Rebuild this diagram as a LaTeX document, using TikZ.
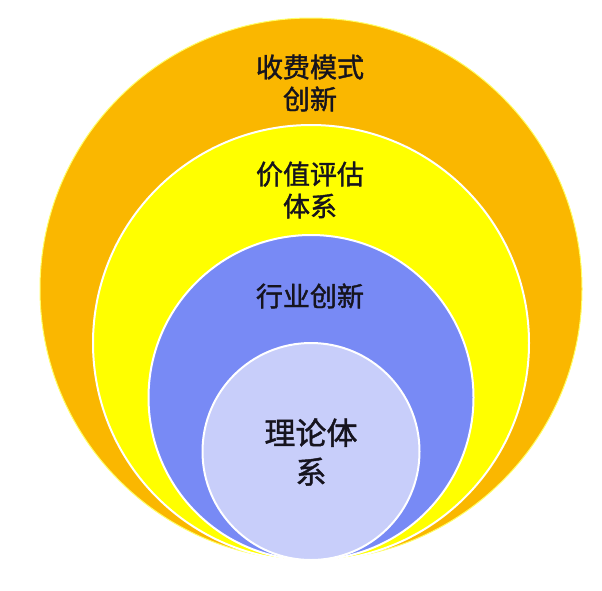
\documentclass[tikz,border=0pt]{standalone}
\usepackage{fontspec}
\newfontfamily\cjk[FakeBold=1.4]{Noto Sans CJK SC}
\definecolor{ringorange}{RGB}{250,183,0}
\definecolor{ringyellow}{RGB}{255,255,0}
\definecolor{ringblue}{RGB}{120,138,245}
\definecolor{ringlight}{RGB}{200,206,250}
\definecolor{txtdark}{RGB}{22,20,30}
\tikzset{
  ring/.style={circle, draw=white, line width=2pt, inner sep=0pt, outer sep=0pt, minimum size=#1},
  lbl/.style={align=center, text=txtdark, inner sep=0pt, font=\cjk\fontsize{27}{32}\selectfont},
  lblbig/.style={align=center, text=txtdark, inner sep=0pt, font=\cjk\fontsize{31}{39}\selectfont}
}
\begin{document}
\begin{tikzpicture}[x=1pt,y=-1pt]
\useasboundingbox (0,0) rectangle (602,590);
\fill[white] (0,0) rectangle (602,590);
\node[ring=542pt, fill=ringorange, draw=ringyellow!60!white, line width=1pt] (c1) at (311,289) {};
\node[ring=436pt, fill=ringyellow] (c2) at (311,343) {};
\node[ring=325pt, fill=ringblue] (c3) at (311,397.5) {};
\node[ring=217pt, fill=ringlight] (c4) at (311,451.5) {};
\node[lbl] (t1) at (310,83) {收费模式\\创新};
\node[lbl] (t2) at (310,190) {价值评估\\体系};
\node[lbl] (t3) at (310,296) {行业创新};
\node[lblbig] (t4) at (311,452) {理论体\\系};
\end{tikzpicture}
\end{document}
